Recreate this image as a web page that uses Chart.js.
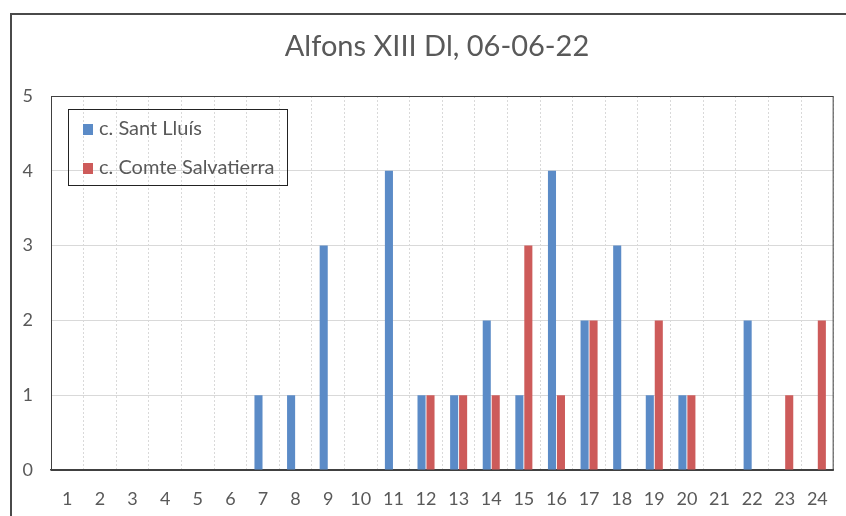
<!DOCTYPE html>
<html lang="ca">
<head>
    <meta charset="UTF-8">
    <title>Alfons XIII Dl, 06-06-22</title>
    <script src="https://cdn.jsdelivr.net/npm/chart.js"></script>
    <style>
        body {
            margin: 0;
            padding: 0;
            background: #fff;
            font-family: Lato, sans-serif;
            overflow: hidden;
        }
        .wrap {
            position: relative;
            width: 846px;
            height: 516px;
            overflow: hidden;
        }
        canvas {
            position: absolute;
            left: 0;
            top: 0;
        }
        /* chart frame, runs off the right and bottom edges */
        .frame {
            position: absolute;
            left: 10px;
            top: 13px;
            width: 900px;
            height: 600px;
            border: 2px solid #4a4a4a;
            box-sizing: border-box;
            pointer-events: none;
        }
        .legend {
            position: absolute;
            left: 68px;
            top: 109px;
            width: 220px;
            height: 77px;
            border: 1px solid #222;
            box-sizing: border-box;
            color: #595959;
            font-size: 20px;
        }
        .legend div {
            position: absolute;
            left: 14px;
            white-space: nowrap;
            line-height: 24px;
        }
        .legend span {
            display: inline-block;
            width: 10px;
            height: 11px;
            margin-right: 6px;
            vertical-align: 0px;
        }
    </style>
</head>
<body>
    <div class="wrap">
        <canvas id="chart" width="846" height="516"></canvas>
        <div class="frame"></div>
        <div class="legend" id="legend"></div>
    </div>

    <script>
        const title = 'Alfons XIII Dl, 06-06-22';
        const hours = ['1', '2', '3', '4', '5', '6', '7', '8', '9', '10', '11', '12',
                       '13', '14', '15', '16', '17', '18', '19', '20', '21', '22', '23', '24'];
        const seriesNames = ['c. Sant Lluís', 'c. Comte Salvatierra'];
        const santLluis = [0, 0, 0, 0, 0, 0, 1, 1, 3, 0, 4, 1, 1, 2, 1, 4, 2, 3, 1, 1, 0, 2, 0, 0];
        const comteSalvatierra = [0, 0, 0, 0, 0, 0, 0, 0, 0, 0, 0, 1, 1, 1, 3, 1, 2, 0, 2, 1, 0, 0, 1, 2];
        const yTicks = [0, 1, 2, 3, 4, 5];
        const colors = ['#5b8bc7', '#cd5b5a'];

        const textGray = '#595959';

        // box around the plot area + title centred over the frame
        const plotBorder = {
            id: 'plotBorder',
            afterDraw(chart) {
                const { ctx, chartArea: a } = chart;
                ctx.save();
                ctx.strokeStyle = '#404040';
                ctx.lineWidth = 1;
                ctx.strokeRect(a.left + 0.5, a.top + 0.5, a.right - a.left - 1, a.bottom - a.top);

                ctx.fillStyle = textGray;
                ctx.font = '29px Lato';
                ctx.textAlign = 'center';
                ctx.textBaseline = 'middle';
                ctx.fillText(title, 437, 47);
                ctx.restore();
            }
        };

        new Chart(document.getElementById('chart'), {
            type: 'bar',
            data: {
                labels: hours,
                datasets: [
                    { label: seriesNames[0], data: santLluis, backgroundColor: colors[0] },
                    { label: seriesNames[1], data: comteSalvatierra, backgroundColor: colors[1] }
                ]
            },
            options: {
                responsive: false,
                animation: false,
                categoryPercentage: 0.55,
                barPercentage: 0.9,
                layout: { padding: { left: 0, right: 10, top: 96, bottom: 0 } },
                plugins: {
                    legend: { display: false },
                    tooltip: { enabled: false },
                    title: { display: false }
                },
                scales: {
                    x: {
                        grid: { color: '#d9d9d9', drawTicks: false, offset: true },
                        border: { color: '#404040', width: 1.5, dash: [2, 2] },
                        ticks: {
                            color: textGray,
                            font: { family: 'Lato', size: 18 },
                            padding: 18,
                            maxRotation: 0,
                            autoSkip: false
                        },
                        afterFit(scale) { scale.height = 46; }
                    },
                    y: {
                        min: 0,
                        max: yTicks[yTicks.length - 1],
                        grid: { color: '#d9d9d9', drawTicks: false },
                        border: { display: false },
                        ticks: {
                            stepSize: 1,
                            color: textGray,
                            font: { family: 'Lato', size: 18 },
                            padding: 18
                        },
                        afterFit(scale) { scale.width = 51; }
                    }
                }
            },
            plugins: [plotBorder]
        });

        // legend box, like the original
        const legend = document.getElementById('legend');
        seriesNames.forEach((name, i) => {
            const row = document.createElement('div');
            row.style.top = (i === 0 ? 5 : 44) + 'px';
            row.innerHTML = '<span style="background:' + colors[i] + '"></span>' + name;
            legend.appendChild(row);
        });
    </script>
</body>
</html>
